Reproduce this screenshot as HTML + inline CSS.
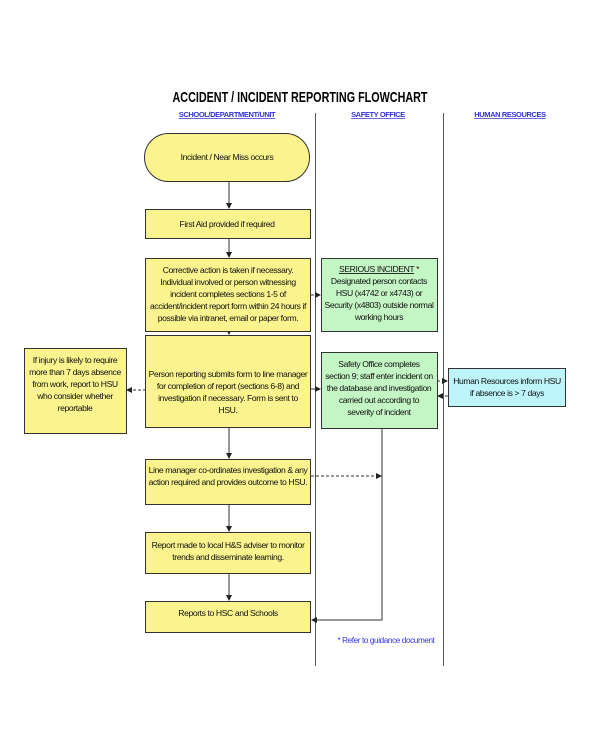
<!DOCTYPE html>
<html><head><style>body{margin:0;background:#fff}svg{display:block}text{font-family:"Liberation Sans",sans-serif}.b text{letter-spacing:-0.4px}</style></head><body>
<svg width="600" height="730" viewBox="0 0 600 730" xmlns="http://www.w3.org/2000/svg">
<defs><marker id="a" markerWidth="6" markerHeight="6" refX="5" refY="3" orient="auto"><path d="M0,0L6,3L0,6z" fill="#222"/></marker></defs>
<text x="300" y="102" text-anchor="middle" font-size="15" font-weight="bold" textLength="255" lengthAdjust="spacingAndGlyphs">ACCIDENT / INCIDENT REPORTING FLOWCHART</text>
<g fill="#3333dd" font-size="7.5" font-weight="bold" text-anchor="middle" text-decoration="underline" letter-spacing="-0.4">
<text x="227" y="117">SCHOOL/DEPARTMENT/UNIT</text><text x="378" y="117">SAFETY OFFICE</text><text x="510" y="117">HUMAN RESOURCES</text></g>
<g stroke="#555" stroke-width="1"><line x1="315.5" y1="113" x2="315.5" y2="666"/><line x1="443.5" y1="113" x2="443.5" y2="666"/></g>
<g stroke="#333" stroke-width="1"><line x1="229" y1="181" x2="229" y2="208" marker-end="url(#a)"/><line x1="229" y1="238" x2="229" y2="257" marker-end="url(#a)"/><line x1="229" y1="331" x2="229" y2="334" marker-end="url(#a)"/><line x1="229" y1="427" x2="229" y2="458" marker-end="url(#a)"/><line x1="229" y1="504" x2="229" y2="531" marker-end="url(#a)"/><line x1="229" y1="573" x2="229" y2="600" marker-end="url(#a)"/>
<line x1="311" y1="389" x2="320" y2="389" marker-end="url(#a)"/>
<polyline points="382,428 382,620 312,620" fill="none" marker-end="url(#a)"/>
<g stroke-dasharray="3,2"><line x1="311" y1="295" x2="320" y2="295" marker-end="url(#a)"/><line x1="146" y1="390" x2="127" y2="390" marker-end="url(#a)"/><line x1="437" y1="381" x2="447" y2="381" marker-end="url(#a)"/><line x1="448" y1="396" x2="438" y2="396" marker-end="url(#a)"/><line x1="311" y1="476" x2="381" y2="476" marker-end="url(#a)"/></g></g>
<g stroke="#333" stroke-width="1">
<rect x="144.5" y="133.5" width="165" height="48" rx="24" fill="#fbf48e"/>
<g fill="#fbf48e"><rect x="145.5" y="209.5" width="165" height="29"/><rect x="145.5" y="258.5" width="165" height="73"/><rect x="24.5" y="348.5" width="102" height="85"/><rect x="145.5" y="335.5" width="165" height="92"/><rect x="145.5" y="459.5" width="165" height="45"/><rect x="145.5" y="532.5" width="165" height="41"/><rect x="145.5" y="601.5" width="165" height="31"/></g>
<g fill="#c4f5c4"><rect x="321.5" y="258.5" width="116" height="73"/><rect x="321.5" y="352.5" width="116" height="76"/></g>
<rect x="448.5" y="368.5" width="117" height="38" fill="#bdf5fb"/></g>
<g class="b" font-size="8.6" text-anchor="middle" fill="#111">
<text x="227" y="160">Incident / Near Miss occurs</text>
<text x="227" y="227">First Aid provided if required</text>
<text x="228" y="273">Corrective action is taken if necessary.</text><text x="228" y="285">Individual involved or person witnessing</text><text x="228" y="297">incident completes sections 1-5 of</text><text x="228" y="309">accident/incident report form within 24 hours if</text><text x="228" y="321">possible via intranet, email or paper form.</text>
<text x="379" y="272"><tspan text-decoration="underline">SERIOUS INCIDENT</tspan> *</text><text x="379" y="284">Designated person contacts</text><text x="379" y="296">HSU (x4742 or x4743) or</text><text x="379" y="308">Security (x4803) outside normal</text><text x="379" y="320">working hours</text>
<text x="75" y="363">If injury is likely to require</text><text x="75" y="375">more than 7 days absence</text><text x="75" y="387">from work, report to HSU</text><text x="75" y="399">who consider whether</text><text x="75" y="411">reportable</text>
<text x="228" y="377">Person reporting submits form to line manager</text><text x="228" y="389">for completion of report (sections 6-8) and</text><text x="228" y="401">investigation if necessary.  Form is sent to</text><text x="228" y="413">HSU.</text>
<text x="379" y="367">Safety Office completes</text><text x="379" y="379">section 9; staff enter incident on</text><text x="379" y="391">the database and investigation</text><text x="379" y="403">carried out according to</text><text x="379" y="415">severity of incident</text>
<text x="507" y="384">Human Resources inform HSU</text><text x="507" y="396">if absence is &gt; 7 days</text>
<text x="228" y="473">Line manager co-ordinates investigation &amp; any</text><text x="228" y="485">action required and provides outcome to HSU.</text>
<text x="228" y="548">Report made to local H&amp;S adviser to monitor</text><text x="228" y="560">trends and disseminate learning.</text>
<text x="228" y="616">Reports to HSC and Schools</text>
<text x="386" y="643" fill="#3333ee" font-size="8.2">* Refer to guidance document</text>
</g></svg></body></html>
